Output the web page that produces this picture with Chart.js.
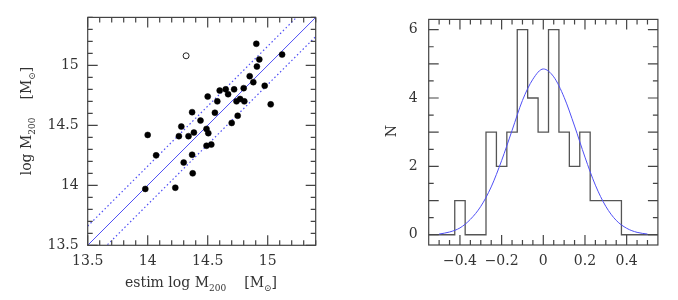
<!DOCTYPE html>
<html>
<head>
<meta charset="utf-8">
<title>log M200: estimated vs measured, and residuals</title>
<script src="https://cdn.jsdelivr.net/npm/chart.js@4"></script>
<style>
  html, body { margin: 0; padding: 0; background: #fff; }
  #wrap { position: relative; width: 678px; height: 300px; }
  canvas { position: absolute; top: 0; }
  #scatterChart { left: 0; }
  #histChart { left: 340px; }
</style>
</head>
<body>
<div id="wrap">
  <canvas id="scatterChart" width="340" height="300"></canvas>
  <canvas id="histChart" width="338" height="300"></canvas>
</div>
<script>
// ---------------------------------------------
// Left panel: estimated vs measured log M200
// ---------------------------------------------
const ESTIM_X = [14.905, 15.12, 14.93, 14.91, 14.85, 14.88, 14.975, 14.60, 14.65, 14.72,
                 14.80, 14.67, 14.50, 14.58, 14.74, 14.77, 14.805, 15.025, 14.37, 14.56,
                 14.44, 14.75, 14.28, 14.49, 14.70, 14.00, 14.26, 14.34, 14.385, 14.505,
                 14.49, 14.53, 14.07, 14.37, 14.30, 14.375, 13.98, 14.23];
const LOGM_Y  = [15.18, 15.09, 15.05, 14.99, 14.91, 14.86, 14.83, 14.79, 14.80, 14.80,
                 14.81, 14.76, 14.74, 14.70, 14.70, 14.72, 14.70, 14.675, 14.61, 14.605,
                 14.54, 14.58, 14.49, 14.47, 14.52, 14.42, 14.41, 14.41, 14.44, 14.435,
                 14.33, 14.34, 14.25, 14.255, 14.19, 14.10, 13.97, 13.98];
const OUTLIER_X = [14.32];
const OUTLIER_Y = [15.08];
const BAND = 0.16;                 // dotted lines: one-to-one +/- BAND
const MASS_RANGE = [13.5, 15.4];
const MASS_TICKS = [13.5, 14, 14.5, 15];

// ---------------------------------------------
// Right panel: residual histogram + gaussian
// ---------------------------------------------
const BIN_CENTERS = [-0.55, -0.5, -0.45, -0.4, -0.35, -0.3, -0.25, -0.2, -0.15, -0.1, -0.05, 0,
                     0.05, 0.1, 0.15, 0.2, 0.25, 0.3, 0.35, 0.4, 0.45, 0.5, 0.55];
const BIN_COUNTS  = [0, 0, 0, 1, 0, 0, 3, 2, 3, 6, 4, 3,
                     6, 3, 2, 3, 1, 1, 1, 0, 0, 0, 0];
const FIT_X = [-0.5, -0.45, -0.4, -0.35, -0.3, -0.25, -0.2, -0.15, -0.1, -0.05, 0,
               0.05, 0.1, 0.15, 0.2, 0.25, 0.3, 0.35, 0.4, 0.45, 0.5];
const FIT_Y = [0.02, 0.08, 0.20, 0.45, 0.83, 1.40, 2.17, 3.05, 3.93, 4.55, 4.85,
               4.62, 4.02, 3.18, 2.27, 1.45, 0.83, 0.42, 0.19, 0.07, 0.02];
const RES_TICKS = [-0.4, -0.2, 0, 0.2, 0.4];
const N_TICKS = [0, 2, 4, 6];

// ---------------------------------------------
// Styles
// ---------------------------------------------
const FONT = "'DejaVu Serif', 'Liberation Serif', serif";
const TEXT_COLOR = '#333';
const FRAME_COLOR = '#444';
const BLUE = '#4f4ff5';
const HIST_COLOR = '#555';
const MAIN_SIZE = 14;
const SUB_SIZE = 9;

function steps(from, to, step) {
    const out = [];
    const n = Math.round((to - from) / step);
    for (let i = 0; i <= n; i++) out.push(+(from + i * step).toFixed(4));
    return out;
}

// frame + inward ticks on all four sides
const frameTicks = {
    id: 'frameTicks',
    afterDatasetsDraw(chart, args, opts) {
        const { ctx, chartArea: a, scales: { x, y } } = chart;
        ctx.save();
        ctx.strokeStyle = FRAME_COLOR;
        ctx.lineWidth = 1.2;
        ctx.beginPath();
        const xt = (v, len) => {
            const px = x.getPixelForValue(v);
            ctx.moveTo(px, a.bottom); ctx.lineTo(px, a.bottom - len);
            ctx.moveTo(px, a.top); ctx.lineTo(px, a.top + len);
        };
        const yt = (v, len) => {
            const py = y.getPixelForValue(v);
            ctx.moveTo(a.left, py); ctx.lineTo(a.left + len, py);
            ctx.moveTo(a.right, py); ctx.lineTo(a.right - len, py);
        };
        opts.xMinor.forEach(v => xt(v, 5));
        opts.xMajor.forEach(v => xt(v, 10));
        opts.yMinor.forEach(v => yt(v, 5));
        opts.yMajor.forEach(v => yt(v, 10));
        ctx.stroke();
        ctx.strokeRect(a.left, a.top, a.right - a.left, a.bottom - a.top);
        ctx.restore();
    }
};

// axis titles with subscripts
const richTitles = {
    id: 'richTitles',
    afterDraw(chart, args, opts) {
        (opts.items || []).forEach(item => drawRich(chart.ctx, item));
    }
};

function drawRich(ctx, item) {
    ctx.save();
    ctx.fillStyle = TEXT_COLOR;
    ctx.textBaseline = 'alphabetic';
    ctx.textAlign = 'left';
    const parts = item.parts.map(p => {
        if (p.gap) return { text: '', w: p.gap };
        const font = (p.sub ? SUB_SIZE : MAIN_SIZE) + 'px ' + FONT;
        ctx.font = font;
        return { text: p.text, sub: p.sub, font, w: ctx.measureText(p.text).width };
    });
    const total = parts.reduce((s, p) => s + p.w, 0);
    ctx.translate(item.x, item.y);
    if (item.rotate) ctx.rotate(-Math.PI / 2);
    let cx = -total / 2;
    parts.forEach(p => {
        if (p.text) {
            ctx.font = p.font;
            ctx.fillText(p.text, cx, p.sub ? 4 : 0);
        }
        cx += p.w;
    });
    ctx.restore();
}

function axis(min, max, tickValues, size, isX, fmt, pad) {
    return {
        type: 'linear',
        min: min,
        max: max,
        grid: { display: false, drawTicks: false },
        border: { display: false },
        afterBuildTicks: s => { s.ticks = tickValues.map(v => ({ value: v })); },
        afterFit: s => { if (isX) s.height = size; else s.width = size; },
        ticks: {
            font: { family: FONT, size: MAIN_SIZE },
            color: TEXT_COLOR,
            padding: pad,
            maxRotation: 0,
            autoSkip: false,
            callback: fmt
        }
    };
}

const plainFmt = v => String(v);
const minusFmt = v => (v < 0 ? '\u2212' + Math.abs(v) : String(v));

const massTitle = [
    { text: 'log M' }, { text: '200', sub: true }, { gap: 18 },
    { text: '[M' }, { text: '\u2299', sub: true }, { text: ']' }
];

// ---------------------------------------------
// Left chart
// ---------------------------------------------
const pts = ESTIM_X.map((x, i) => ({ x: x, y: LOGM_Y[i] }));
const openPts = OUTLIER_X.map((x, i) => ({ x: x, y: OUTLIER_Y[i] }));
const [lo, hi] = MASS_RANGE;

new Chart(document.getElementById('scatterChart'), {
    type: 'scatter',
    data: {
        datasets: [
            { data: pts, pointRadius: 3, pointBackgroundColor: '#000', pointBorderColor: '#000', pointBorderWidth: 0.5 },
            { data: openPts, pointRadius: 3, pointBackgroundColor: 'rgba(0,0,0,0)', pointBorderColor: '#222', pointBorderWidth: 1 },
            { type: 'line', data: [{ x: lo, y: lo }, { x: hi, y: hi }], borderColor: BLUE, borderWidth: 1, pointRadius: 0 },
            { type: 'line', data: [{ x: lo, y: lo + BAND }, { x: hi, y: hi + BAND }], borderColor: BLUE, borderWidth: 1.2, borderDash: [1.5, 2.5], pointRadius: 0 },
            { type: 'line', data: [{ x: lo, y: lo - BAND }, { x: hi, y: hi - BAND }], borderColor: BLUE, borderWidth: 1.2, borderDash: [1.5, 2.5], pointRadius: 0 }
        ]
    },
    options: {
        responsive: false,
        animation: false,
        devicePixelRatio: 1,
        layout: { padding: { left: 0, right: 24.3, top: 17.3, bottom: 0 } },
        plugins: {
            legend: { display: false },
            tooltip: { enabled: false },
            frameTicks: {
                xMajor: MASS_TICKS, xMinor: steps(13.5, 15.4, 0.1),
                yMajor: MASS_TICKS, yMinor: steps(13.5, 15.4, 0.1)
            },
            richTitles: {
                items: [
                    { x: 201, y: 287, parts: [{ text: 'estim ' }].concat(massTitle) },
                    { x: 31, y: 121, rotate: true, parts: massTitle }
                ]
            }
        },
        scales: {
            x: axis(lo, hi, MASS_TICKS, 54.7, true, plainFmt, 8),
            y: axis(lo, hi, MASS_TICKS, 87.7, false, plainFmt, 9)
        }
    },
    plugins: [frameTicks, richTitles]
});

// ---------------------------------------------
// Right chart
// ---------------------------------------------
new Chart(document.getElementById('histChart'), {
    type: 'line',
    data: {
        datasets: [
            {
                data: FIT_X.map((x, i) => ({ x: x, y: FIT_Y[i] })),
                borderColor: BLUE, borderWidth: 1, pointRadius: 0,
                cubicInterpolationMode: 'monotone'
            },
            {
                data: BIN_CENTERS.map((x, i) => ({ x: x, y: BIN_COUNTS[i] })),
                borderColor: HIST_COLOR, borderWidth: 1.3, pointRadius: 0,
                stepped: 'middle'
            }
        ]
    },
    options: {
        responsive: false,
        animation: false,
        devicePixelRatio: 1,
        layout: { padding: { left: 0, right: 20.1, top: 17.3, bottom: 0 } },
        plugins: {
            legend: { display: false },
            tooltip: { enabled: false },
            frameTicks: {
                xMajor: RES_TICKS, xMinor: steps(-0.5, 0.5, 0.05),
                yMajor: steps(0, 6, 1), yMinor: steps(0, 6, 0.5)
            },
            richTitles: {
                items: [
                    { x: 541, y: 287, parts: [{ text: 'log M' }, { text: '200', sub: true }, { text: ' residuals' }] },
                    { x: 56, y: 131, rotate: true, parts: [{ text: 'N' }] }
                ]
            }
        },
        scales: {
            x: axis(-0.55, 0.55, RES_TICKS, 55, true, minusFmt, 8),
            y: axis(-0.3, 6.3, N_TICKS, 88.7, false, plainFmt, 11)
        }
    },
    plugins: [frameTicks, richTitles]
});
</script>
</body>
</html>
